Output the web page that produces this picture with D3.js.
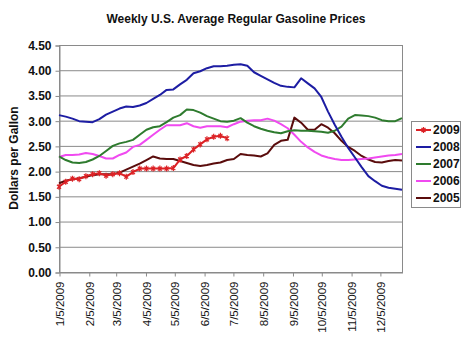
<!DOCTYPE html>
<html><head><meta charset="utf-8">
<script src="https://cdn.jsdelivr.net/npm/d3@7"></script>
<style>body{margin:0;background:#fff}svg{display:block}text{font-family:"Liberation Sans",Arial,sans-serif}</style>
</head><body><svg id="c" width="470" height="353"></svg>
<script>
const title = "Weekly U.S. Average Regular Gasoline Prices";
const yTitle = "Dollars per Gallon";
const seriesNames = ["2009","2008","2007","2006","2005"];
const seriesColors = ["#dc2226","#1d1da3","#2e7b2e","#f04af0","#5a0c0c"];
const yTicks = [0,0.5,1,1.5,2,2.5,3,3.5,4,4.5];
const xTickLabels = ["1/5/2009","2/5/2009","3/5/2009","4/5/2009","5/5/2009","6/5/2009","7/5/2009","8/5/2009","9/5/2009","10/5/2009","11/5/2009","12/5/2009"];
const startDate = "2009-01-05";
const v2009 = [1.69,1.79,1.85,1.84,1.90,1.94,1.96,1.91,1.94,1.96,1.89,1.98,2.05,2.05,2.05,2.05,2.05,2.06,2.23,2.30,2.43,2.53,2.63,2.68,2.70,2.65];
const v2008 = [3.11,3.08,3.04,2.99,2.98,2.97,3.03,3.12,3.18,3.24,3.28,3.27,3.30,3.35,3.43,3.51,3.61,3.62,3.72,3.81,3.94,3.98,4.04,4.08,4.08,4.09,4.11,4.12,4.09,3.96,3.89,3.82,3.75,3.69,3.67,3.66,3.84,3.74,3.64,3.47,3.18,2.92,2.68,2.46,2.27,2.08,1.90,1.80,1.71,1.67,1.65,1.63];
const v2007 = [2.29,2.22,2.17,2.16,2.18,2.23,2.30,2.40,2.50,2.55,2.58,2.62,2.72,2.82,2.87,2.89,2.97,3.06,3.11,3.22,3.21,3.16,3.09,3.04,2.99,2.98,3.00,3.05,2.96,2.89,2.84,2.80,2.77,2.75,2.79,2.81,2.80,2.80,2.79,2.78,2.76,2.80,2.88,3.04,3.11,3.10,3.09,3.06,3.01,2.99,2.99,3.05];
const v2006 = [2.28,2.32,2.32,2.33,2.36,2.34,2.30,2.25,2.25,2.32,2.37,2.48,2.52,2.62,2.72,2.82,2.91,2.91,2.91,2.95,2.89,2.86,2.89,2.89,2.89,2.87,2.93,2.98,3.00,3.01,3.01,3.04,3.00,2.93,2.85,2.72,2.58,2.47,2.38,2.31,2.27,2.24,2.22,2.22,2.23,2.24,2.25,2.27,2.29,2.31,2.32,2.34];
const v2005 = [1.76,1.81,1.84,1.86,1.89,1.92,1.94,1.94,1.94,1.97,2.03,2.09,2.15,2.22,2.29,2.25,2.24,2.24,2.20,2.16,2.12,2.10,2.12,2.15,2.17,2.22,2.24,2.34,2.32,2.31,2.29,2.35,2.52,2.60,2.62,3.06,2.96,2.82,2.82,2.93,2.86,2.75,2.60,2.48,2.40,2.30,2.23,2.18,2.17,2.20,2.22,2.21];
const seriesValues = [v2009,v2008,v2007,v2006,v2005];

const svg = d3.select("#c");
const L = 59, R = 402, T = 45, B = 272;
const parse = d3.timeParse("%Y-%m-%d");
const fmt = d3.timeParse("%m/%d/%Y");
const t0 = parse(startDate);
const dateAt = i => d3.timeDay.offset(t0, 7*i);
const x = d3.scaleTime().domain([t0, dateAt(51)]).range([L, R]);
const y = d3.scaleLinear().domain([0, 4.5]).range([B, T]);

// gridlines
svg.append("g").selectAll("line").data(yTicks).join("line")
  .attr("x1", L).attr("x2", R).attr("y1", d => y(d)+0.5).attr("y2", d => y(d)+0.5)
  .attr("stroke", "#8a8a8a").attr("stroke-width", 1);
svg.append("rect").attr("x", L+0.5).attr("y", T+0.5).attr("width", R-L).attr("height", B-T)
  .attr("fill", "none").attr("stroke", "#8a8a8a");

// y axis
const yAxis = d3.axisLeft(y).tickValues(yTicks).tickFormat(d3.format(".2f")).tickSize(4).tickPadding(4);
const gy = svg.append("g").attr("transform", `translate(${L+0.5},0.5)`).call(yAxis);
gy.select(".domain").attr("stroke", "#8a8a8a");
gy.selectAll(".tick line").attr("stroke", "#8a8a8a");
gy.selectAll("text").attr("font-size", 12).attr("font-weight", "bold").attr("fill", "#111")
  .attr("font-family", "Liberation Sans, Arial, sans-serif");

// x axis
const xTickDates = xTickLabels.map(s => fmt(s));
const xAxis = d3.axisBottom(x).tickValues(xTickDates).tickFormat((d,i) => xTickLabels[i]).tickSize(4).tickSizeOuter(0);
const gx = svg.append("g").attr("transform", `translate(0.5,${B+0.5})`).call(xAxis);
gx.select(".domain").attr("stroke", "#8a8a8a");
gx.selectAll(".tick line").attr("stroke", "#8a8a8a");
gx.selectAll("text").attr("font-size", 11.5).attr("fill", "#111")
  .attr("font-family", "Liberation Sans, Arial, sans-serif")
  .attr("text-anchor", "end").attr("transform", "rotate(-90)")
  .attr("x", -9).attr("y", 0).attr("dy", "0.35em");

// series lines (2005 first, 2009 on top)
const line = d3.line().x((d,i) => x(dateAt(i))).y(d => y(d)).curve(d3.curveLinear);
for (let k = seriesNames.length-1; k >= 0; k--) {
  svg.append("path").datum(seriesValues[k]).attr("d", line)
    .attr("fill", "none").attr("stroke", seriesColors[k]).attr("stroke-width", 2)
    .attr("stroke-linejoin", "round");
}
const star = "M-2,-2L2,2M-2,2L2,-2M0,-3L0,3";
svg.append("g").selectAll("path").data(v2009).join("path")
  .attr("transform", (d,i) => `translate(${x(dateAt(i))},${y(d)})`)
  .attr("d", star).attr("stroke", seriesColors[0]).attr("stroke-width", 1.2).attr("fill", "none");

// title
svg.append("text").attr("x", 236).attr("y", 23).attr("text-anchor", "middle")
  .attr("font-size", 12).attr("font-weight", "bold").attr("fill", "#111").text(title);
svg.append("text").attr("transform", "translate(17.5,158) rotate(-90)").attr("text-anchor", "middle")
  .attr("font-size", 12).attr("font-weight", "bold").attr("fill", "#111").text(yTitle);

// legend
const lg = svg.append("g");
lg.append("rect").attr("x", 411.5).attr("y", 121.5).attr("width", 49).attr("height", 86)
  .attr("fill", "#fff").attr("stroke", "#8a8a8a");
seriesNames.forEach((n, k) => {
  const yy = 130 + k*17;
  lg.append("line").attr("x1", 416).attr("x2", 431).attr("y1", yy).attr("y2", yy)
    .attr("stroke", seriesColors[k]).attr("stroke-width", 2);
  if (k === 0) lg.append("path").attr("d", star).attr("transform", `translate(423.5,${yy})`)
    .attr("stroke", seriesColors[0]).attr("stroke-width", 1.2).attr("fill", "none");
  lg.append("text").attr("x", 433).attr("y", yy).attr("dy", "0.36em")
    .attr("font-size", 12).attr("font-weight", "bold").attr("fill", "#111").text(n);
});
</script></body></html>
